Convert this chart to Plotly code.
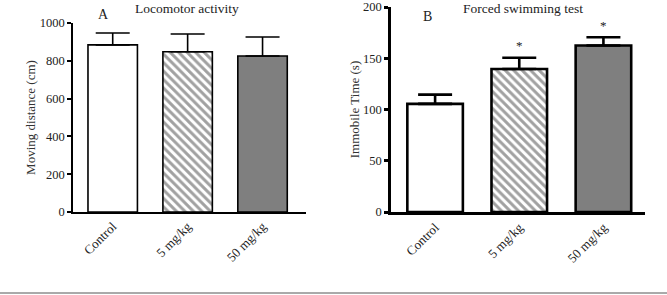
import plotly.graph_objects as go

categories = ["Control", "5 mg/kg", "50 mg/kg"]
loco_mean = [884, 848, 825]
loco_err = [63, 94, 101]
fst_mean = [105.5, 139.5, 162.5]
fst_err = [9, 11, 8]
fst_sig = ["", "*", "*"]

FONT = "Liberation Serif, Times New Roman, serif"
fills = ["white", "white", "#7f7f7f"]
shapes_pat = ["", "\\", ""]

fig = go.Figure()

def add_bars(y, err, xa, ya, lw):
    fig.add_trace(go.Bar(
        x=categories, y=y, xaxis=xa, yaxis=ya, width=0.66,
        marker=dict(color=fills, line=dict(color="black", width=lw),
                    pattern=dict(shape=shapes_pat, fgcolor="black", bgcolor="white",
                                 size=6, solidity=0.5)),
        error_y=dict(type="data", array=err, arrayminus=[0]*len(err), symmetric=False,
                     color="black", thickness=lw, width=17),
        showlegend=False,
    ))

add_bars(loco_mean, loco_err, "x", "y", 1.6)
add_bars(fst_mean, fst_err, "x2", "y2", 2.6)

W, H = 667, 295
def px(x):
    return x / W
def py(y):
    return (H - y) / H

axis_font = dict(family=FONT, size=12.5, color="#222")
common_x = dict(type="category", showline=True, linecolor="black", ticks="",
                tickangle=-45, tickfont=dict(family=FONT, size=13, color="#222"),
                showgrid=False, zeroline=False, automargin=False)
fig.update_layout(
    width=W, height=H, margin=dict(l=0, r=0, t=0, b=0, autoexpand=False),
    plot_bgcolor="white", paper_bgcolor="white", bargap=0.3,
    xaxis=dict(domain=[px(73), px(306)], range=[-0.53, 2.58], linewidth=1.6,
               anchor="y", **common_x),
    yaxis=dict(domain=[py(212), py(23)], range=[0, 1000], tickvals=[0, 200, 400, 600, 800, 1000],
               showline=True, linecolor="black", linewidth=1.6, ticks="outside", ticklen=4,
               tickwidth=1.6, tickcolor="black", showgrid=False, zeroline=False,
               tickfont=axis_font, anchor="x", automargin=False, ticklabeloverflow="allow",
               title=dict(text="Moving distance (cm)", font=dict(family=FONT, size=13, color="#333"),
                          standoff=1)),
    xaxis2=dict(domain=[px(391), px(645)], range=[-0.524, 2.494], linewidth=2.6,
                anchor="y2", **common_x),
    yaxis2=dict(domain=[py(212), py(7)], range=[0, 200], tickvals=[0, 50, 100, 150, 200],
                showline=True, linecolor="black", linewidth=2.6, ticks="outside", ticklen=4,
                tickwidth=2.6, tickcolor="black", showgrid=False, zeroline=False,
                tickfont=axis_font, anchor="x2", automargin=False, ticklabeloverflow="allow",
                title=dict(text="Immobile Time (s)", font=dict(family=FONT, size=13, color="#333"),
                           standoff=1)),
)

anns = [
    dict(text="Locomotor activity", x=px(187), y=py(9), xref="paper", yref="paper",
         xanchor="center", yanchor="middle",
         showarrow=False, font=dict(family=FONT, size=13.5, color="#222")),
    dict(text="A", x=px(103), y=py(14), xref="paper", yref="paper",
         xanchor="center", yanchor="middle",
         showarrow=False, font=dict(family=FONT, size=14, color="#222")),
    dict(text="Forced swimming test", x=px(523), y=py(9), xref="paper", yref="paper",
         xanchor="center", yanchor="middle",
         showarrow=False, font=dict(family=FONT, size=13.5, color="#222")),
    dict(text="B", x=px(427), y=py(16), xref="paper", yref="paper",
         xanchor="center", yanchor="middle",
         showarrow=False, font=dict(family=FONT, size=14, color="#222")),
]
for c, m, e, s in zip(categories, fst_mean, fst_err, fst_sig):
    if s:
        anns.append(dict(text=s, x=c, y=m + e, xref="x2", yref="y2", yshift=12,
                         xanchor="center",
                         showarrow=False, font=dict(family=FONT, size=13, color="#222")))
fig.update_layout(annotations=anns)

fig.add_shape(type="line", xref="paper", yref="paper", x0=0, x1=1, y0=py(293), y1=py(293),
              line=dict(color="#555", width=1))

fig.write_html("out.html")
